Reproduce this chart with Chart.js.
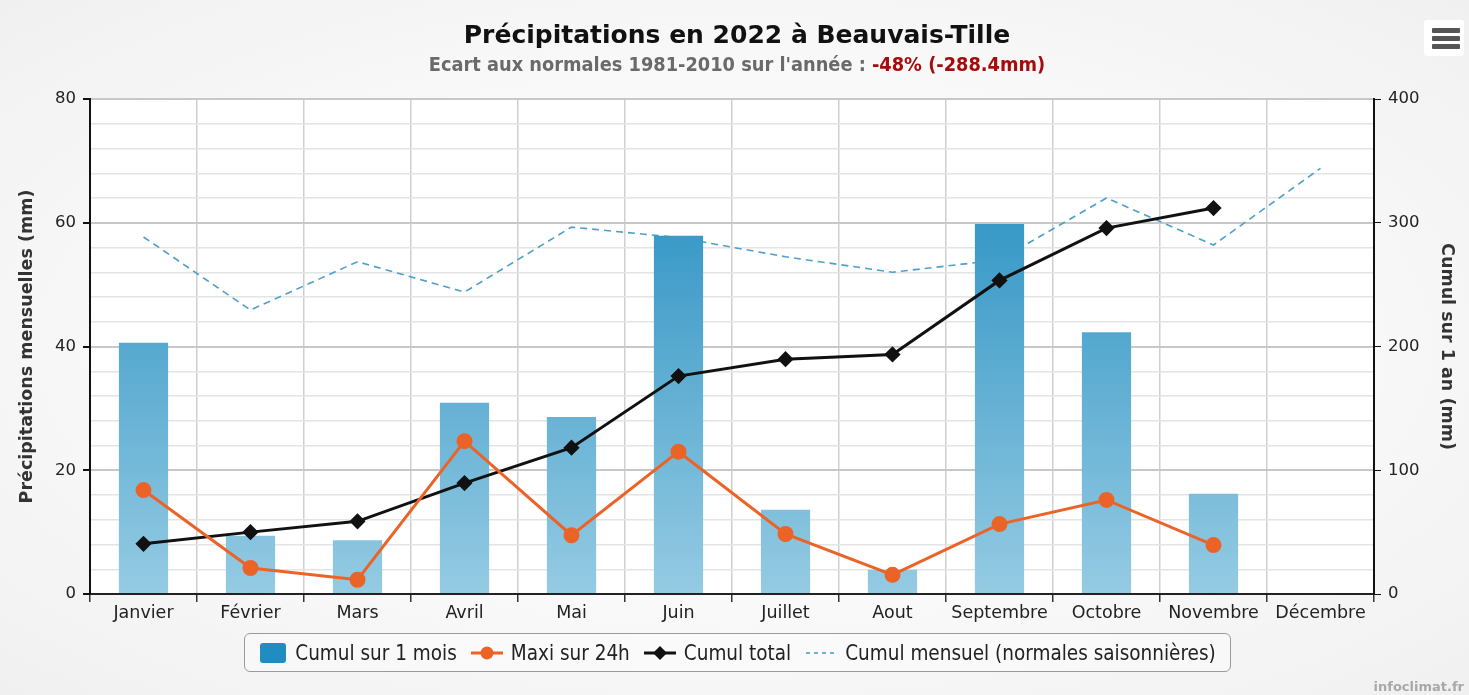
<!DOCTYPE html>
<html>
<head>
<meta charset="utf-8">
<script src="https://cdn.jsdelivr.net/npm/chart.js@4.4.1/dist/chart.umd.min.js"></script>
<style>
  html, body { margin:0; padding:0; background:#f6f6f6; }
  #wrap { position:relative; width:1469px; height:695px; overflow:hidden;
          background: radial-gradient(ellipse at center, #ffffff 0%, #f8f8f8 60%, #f0f0f0 100%); }
  canvas { position:absolute; left:0; top:0; }
  #title { position:absolute; left:0; width:1474px; top:20px; text-align:center;
           font-family:"DejaVu Sans", sans-serif; font-weight:bold; font-size:25px; color:#111; }
  #subtitle { position:absolute; left:0; width:1474px; top:53px; text-align:center;
           font-family:"DejaVu Sans Condensed","DejaVu Sans", sans-serif; font-weight:bold; font-size:19.8px; color:#6a6a6a; }
  #subtitle span { color:#a50d0d; }
  #legend { position:absolute; left:244px; top:633px; width:987px; height:39px; box-sizing:border-box;
            border:1px solid #9a9a9a; border-radius:6px; background:rgba(255,255,255,0.35);
            display:flex; align-items:center; justify-content:center;
            font-family:"DejaVu Sans Condensed","DejaVu Sans", sans-serif; font-size:20.5px; color:#222; }
  .item { display:flex; align-items:center; margin:0 7px; }
  .item canvas { position:static; margin-right:8px; }
  #menu { position:absolute; left:1424px; top:20px; width:40px; height:36px; background:#fff; border-radius:3px; }
  #menu div { position:absolute; left:8px; width:28px; height:5px; background:#555; border-radius:1px; }
  #credits { position:absolute; right:5px; top:679px; font-family:"DejaVu Sans", sans-serif; font-weight:bold; font-size:13px; color:#a8a8a8; }
</style>
</head>
<body>
<div id="wrap">
  <canvas id="c" width="1469" height="695"></canvas>
  <div id="title"></div>
  <div id="subtitle"></div>
  <div id="legend"></div>
  <div id="menu"><div style="top:8px"></div><div style="top:16px"></div><div style="top:24px"></div></div>
  <div id="credits">infoclimat.fr</div>
</div>
<script>
// ---- data ----
const titleText = "Précipitations en 2022 à Beauvais-Tille";
const subtitleText = "Ecart aux normales 1981-2010 sur l'année : ";
const subtitleValue = "-48% (-288.4mm)";
const months = ["Janvier","Février","Mars","Avril","Mai","Juin","Juillet","Aout","Septembre","Octobre","Novembre","Décembre"];
const cumulMois = [40.6, 9.4, 8.7, 30.9, 28.6, 57.9, 13.6, 3.9, 59.8, 42.3, 16.2, null];
const maxi24h = [16.8, 4.2, 2.3, 24.7, 9.5, 23.0, 9.7, 3.1, 11.3, 15.2, 7.9, null];
const cumulTotal = [40.6, 50.0, 58.7, 89.6, 118.2, 176.1, 189.7, 193.6, 253.4, 295.7, 311.9, null];
const normales = [57.7, 45.9, 53.7, 48.8, 59.3, 57.6, 54.5, 52.0, 54.0, 64.0, 56.4, 68.8];
const seriesNames = ["Cumul sur 1 mois", "Maxi sur 24h", "Cumul total", "Cumul mensuel (normales saisonnières)"];
const leftTitle = "Précipitations mensuelles (mm)";
const rightTitle = "Cumul sur 1 an (mm)";

document.getElementById('title').textContent = titleText;
const st = document.getElementById('subtitle');
st.textContent = subtitleText;
const sp = document.createElement('span'); sp.textContent = subtitleValue; st.appendChild(sp);

const FONT = "'DejaVu Sans', sans-serif";
const C_BAR_TOP = '#1887bd', C_BAR_BOT = '#95cbe3';
const C_ORANGE = '#ec6327', C_BLACK = '#111111', C_DASH = '#4f9fcc';

function barGradient(ctx) {
  const ca = ctx.chart.chartArea;
  if (!ca) return C_BAR_TOP;
  const g = ctx.chart.ctx.createLinearGradient(0, ca.top, 0, ca.bottom);
  g.addColorStop(0, C_BAR_TOP);
  g.addColorStop(1, C_BAR_BOT);
  return g;
}

const whiteArea = {
  id: 'whiteArea',
  beforeDraw(chart) {
    const {ctx, chartArea: a} = chart;
    ctx.save(); ctx.fillStyle = '#ffffff';
    ctx.fillRect(a.left, a.top, a.right - a.left, a.bottom - a.top);
    ctx.restore();
  }
};

const chart = new Chart(document.getElementById('c'), {
  type: 'bar',
  data: {
    labels: months,
    datasets: [
      { type:'line', label: seriesNames[3], data: normales, yAxisID:'y', borderColor:C_DASH,
        borderWidth:1.6, borderDash:[7,5], pointRadius:0, fill:false, order:4, tension:0 },
      { type:'bar', label: seriesNames[0], data: cumulMois, yAxisID:'y', backgroundColor: barGradient,
        borderWidth:0, categoryPercentage:1.0, barPercentage:0.46, order:3 },
      { type:'line', label: seriesNames[2], data: cumulTotal, yAxisID:'y1', borderColor:C_BLACK,
        backgroundColor:C_BLACK, borderWidth:3, pointStyle:'rectRot', pointRadius:6, fill:false, order:2, tension:0 },
      { type:'line', label: seriesNames[1], data: maxi24h, yAxisID:'y', borderColor:C_ORANGE,
        backgroundColor:C_ORANGE, borderWidth:3, pointStyle:'circle', pointRadius:6.5, fill:false, order:1, tension:0 }
    ]
  },
  options: {
    responsive:false, animation:false,
    layout: { padding: { left:0, right:0, top:99, bottom:0 } },
    plugins: { legend:{display:false}, title:{display:false}, tooltip:{enabled:false} },
    scales: {
      x: {
        offset:true,
        grid: { offset:true, color:'#cfcfcf', lineWidth:1.5, tickColor:'#333', tickLength:8, drawTicks:true },
        border: { color:'#222', width:2 },
        ticks: { color:'#222', font:{family:FONT, size:17.5}, padding:1, maxRotation:0, autoSkip:false },
        afterFit(s) { s.height = 101; }
      },
      y: {
        position:'left', min:0, max:80,
        grid: {
          color: c => (c.tick && c.tick.value % 20 === 0) ? '#c8c8c8' : '#e4e4e4',
          lineWidth: c => (c.tick && c.tick.value % 20 === 0) ? 2 : 1.5,
          tickColor: c => (c.tick && c.tick.value % 20 === 0) ? '#111' : 'rgba(0,0,0,0)',
          tickLength:7
        },
        border: { color:'#111', width:2 },
        ticks: { stepSize:4, color:'#222', font:{family:FONT, size:16.5}, padding:7,
                 callback: v => (v % 20 === 0 ? String(v) : '') },
        title: { display:true, text:leftTitle, color:'#333', font:{family:FONT, size:17.5, weight:'bold'}, padding:{top:17,bottom:0} },
        afterFit(s) { s.width = 90; }
      },
      y1: {
        position:'right', min:0, max:400,
        grid: { drawOnChartArea:false, tickColor:'#111', tickLength:7 },
        border: { color:'#111', width:2 },
        ticks: { stepSize:100, color:'#222', font:{family:FONT, size:16.5}, padding:7 },
        title: { display:true, text:rightTitle, color:'#333', font:{family:FONT, size:17.5, weight:'bold'}, padding:{top:12,bottom:0} },
        afterFit(s) { s.width = 95; }
      }
    }
  },
  plugins: [whiteArea]
});

// ---- HTML legend built from the datasets ----
function icon(kind) {
  const cv = document.createElement('canvas');
  const ctx = cv.getContext('2d');
  if (kind === 'bar') {
    cv.width = 28; cv.height = 22;
    ctx.fillStyle = '#1f8dc2';
    ctx.beginPath(); ctx.roundRect(1, 1, 26, 20, 3); ctx.fill();
    return cv;
  }
  cv.width = 32; cv.height = 22;
  if (kind === 'dash') {
    ctx.strokeStyle = C_DASH; ctx.lineWidth = 1.6; ctx.setLineDash([4,4]);
    ctx.beginPath(); ctx.moveTo(1, 11); ctx.lineTo(31, 11); ctx.stroke();
    return cv;
  }
  const col = kind === 'circle' ? C_ORANGE : C_BLACK;
  ctx.strokeStyle = col; ctx.fillStyle = col; ctx.lineWidth = 3;
  ctx.beginPath(); ctx.moveTo(0, 11); ctx.lineTo(32, 11); ctx.stroke();
  ctx.beginPath();
  if (kind === 'circle') ctx.arc(16, 11, 6.5, 0, Math.PI*2);
  else { ctx.moveTo(16,4); ctx.lineTo(23,11); ctx.lineTo(16,18); ctx.lineTo(9,11); ctx.closePath(); }
  ctx.fill();
  return cv;
}
const leg = document.getElementById('legend');
[['bar',0],['circle',1],['diamond',2],['dash',3]].forEach(([k,i]) => {
  const it = document.createElement('div'); it.className = 'item';
  it.appendChild(icon(k));
  const t = document.createElement('span'); t.textContent = seriesNames[i];
  it.appendChild(t); leg.appendChild(it);
});
</script>
</body>
</html>
